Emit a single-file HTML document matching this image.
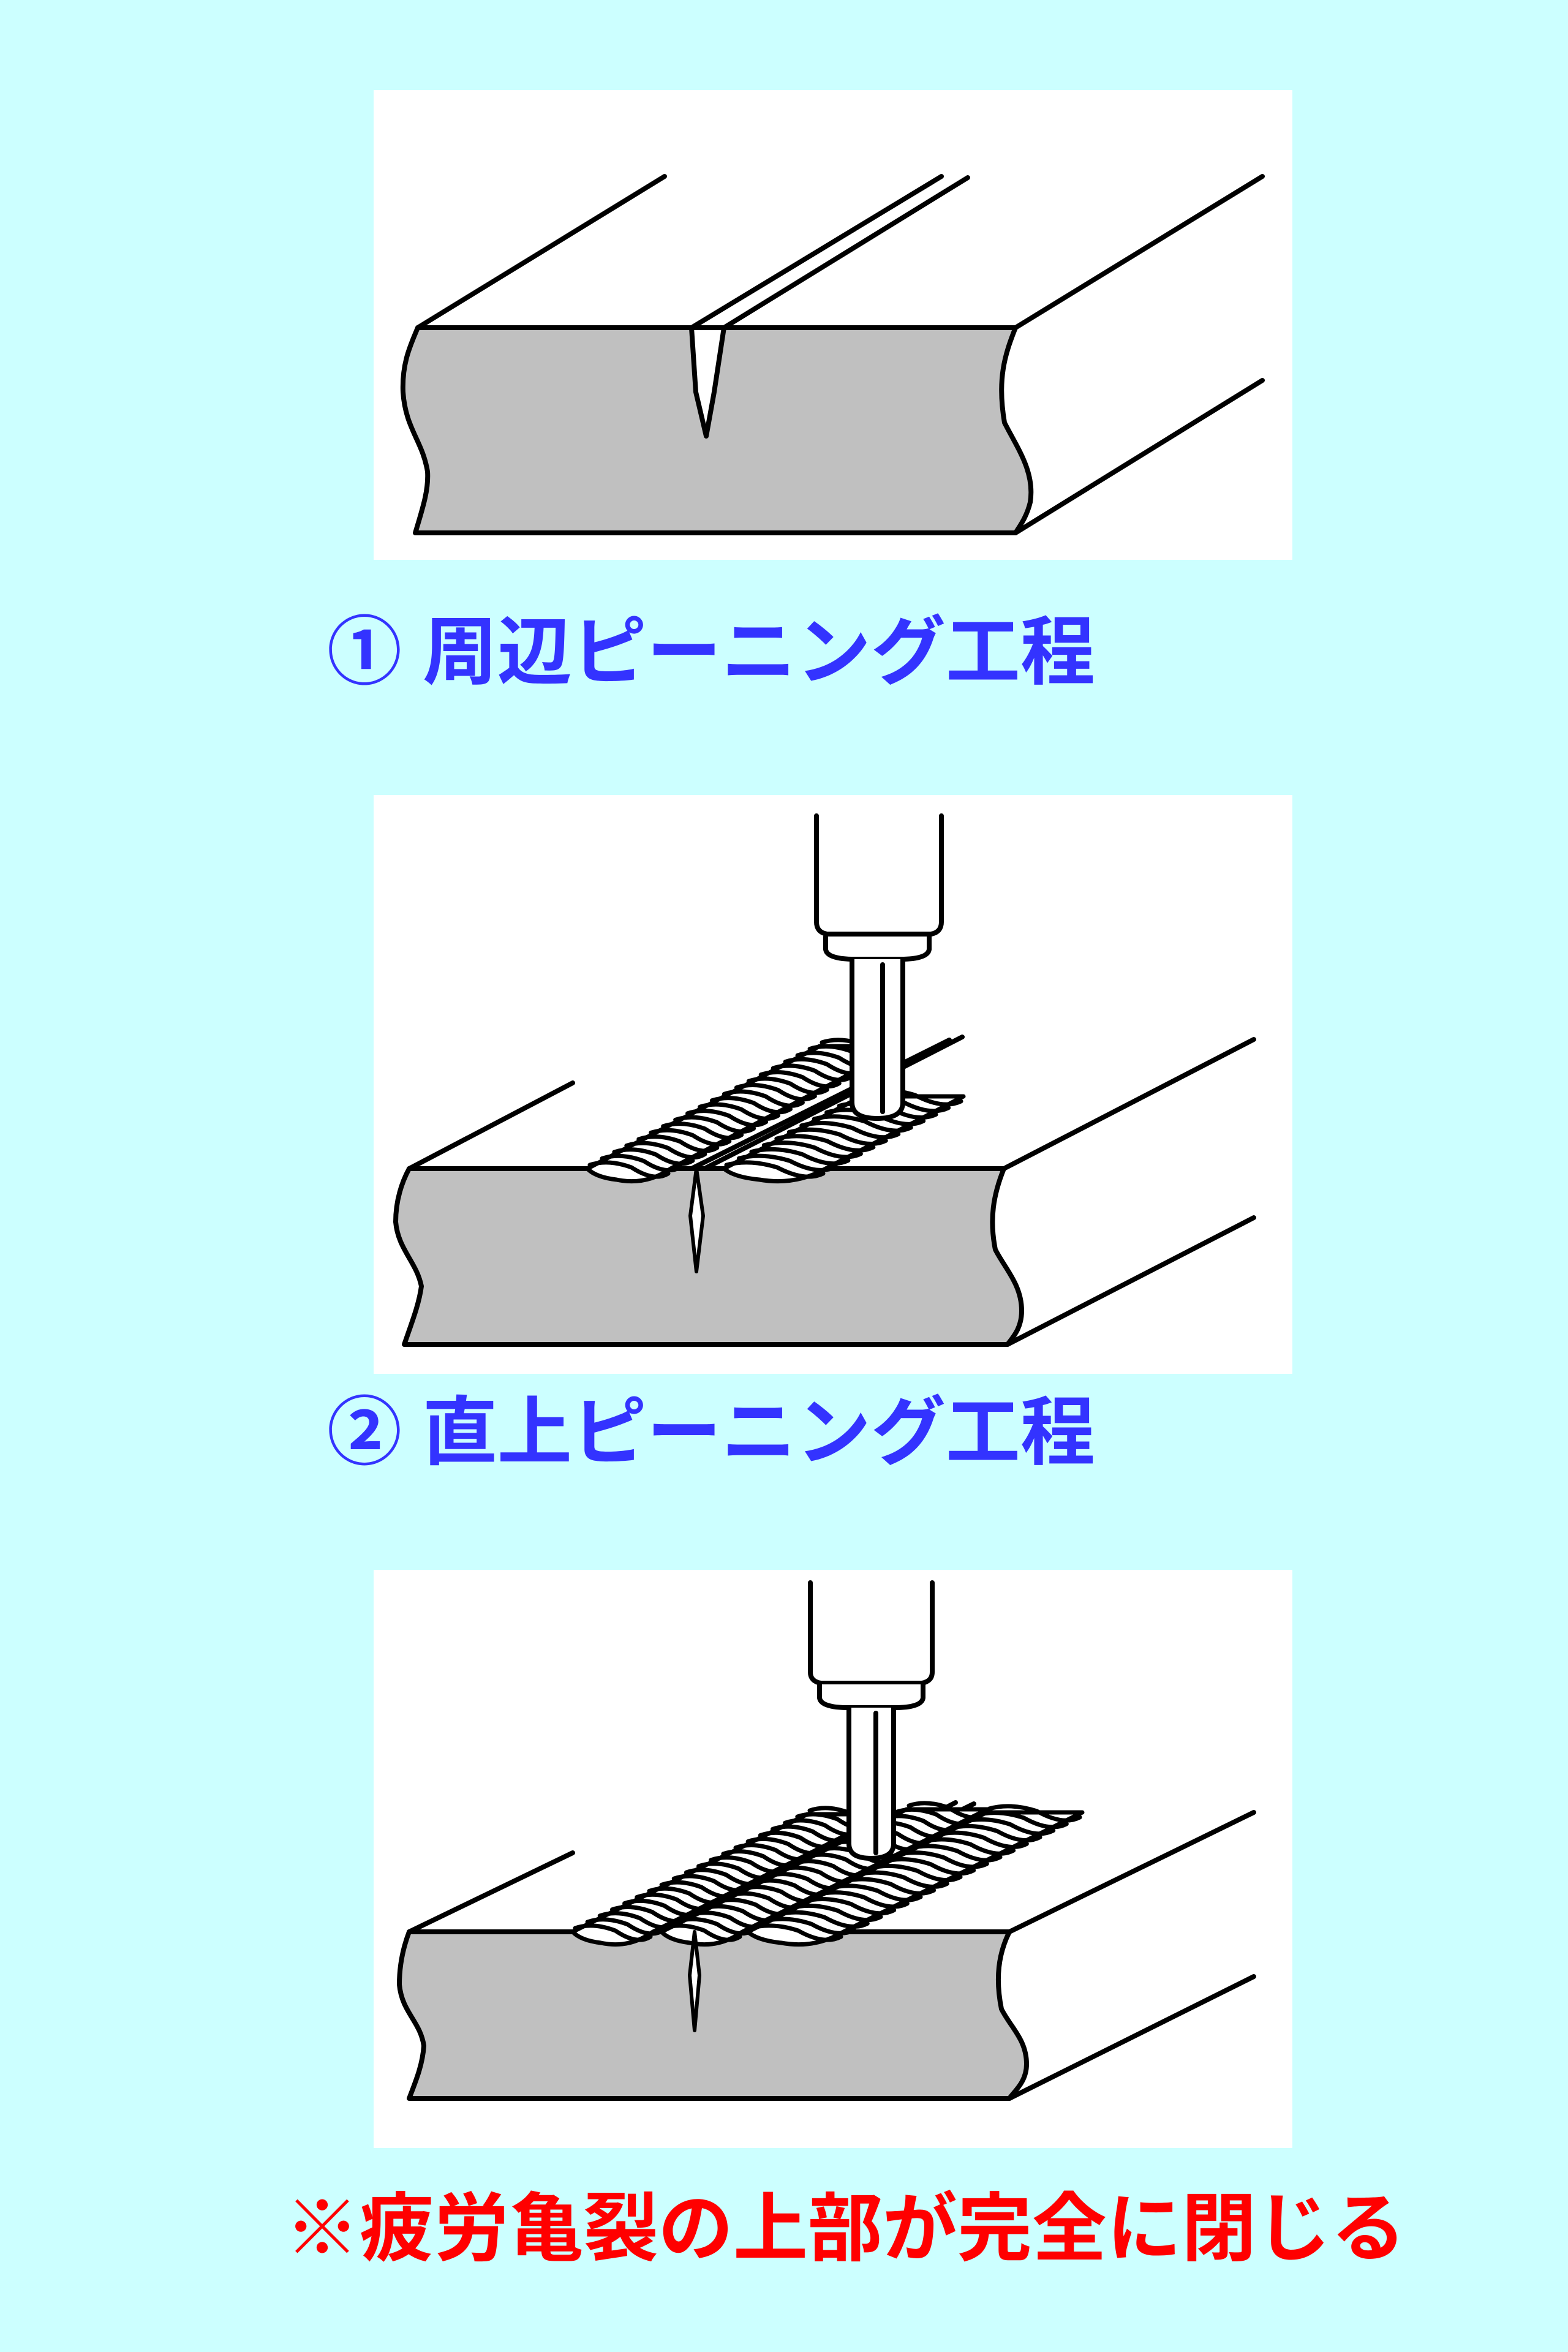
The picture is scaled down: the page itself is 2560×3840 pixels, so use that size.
<!DOCTYPE html>
<html><head><meta charset="utf-8">
<style>
html,body{margin:0;padding:0;}
body{width:2560px;height:3840px;background:#ccffff;position:relative;overflow:hidden;}
.lbl{position:absolute;font-family:"Liberation Sans","Noto Sans CJK JP",sans-serif;font-weight:bold;white-space:nowrap;line-height:1;}
svg{position:absolute;left:0;top:0;}
</style></head><body>
<svg id="s" width="2560" height="3840" viewBox="0 0 2560 3840" xmlns="http://www.w3.org/2000/svg">
<g stroke="#000" stroke-width="8" stroke-linejoin="round" stroke-linecap="round">
<!-- Panel 1 -->
<rect x="610" y="147" width="1500" height="767" fill="#fff" stroke="none"/>
<line x1="682" y1="535" x2="1085" y2="288"/>
<line x1="1658" y1="535" x2="2061" y2="288"/>
<line x1="1658" y1="870" x2="2061" y2="621"/>
<line x1="1129" y1="535" x2="1537" y2="288"/>
<line x1="1182" y1="535" x2="1580" y2="290"/>
<path d="M682 535 L1658 535 C1640 580 1628 620 1640 690 C1660 730 1690 770 1682 820 C1676 845 1664 860 1658 870 L678 870 C690 830 700 800 698 770 C690 720 662 700 658 640 C656 590 672 560 682 535 Z" fill="#c0c0c0"/>
<path d="M1129 535 L1136 640 L1153 712 L1166 640 L1182 535 Z" fill="#fff"/>
<!-- Panel 2 -->
<rect x="610" y="1298" width="1500" height="945" fill="#fff" stroke="none"/>
<line x1="668" y1="1908" x2="935" y2="1768"/>
<line x1="1639" y1="1908" x2="2047" y2="1697"/>
<line x1="1645" y1="2195" x2="2047" y2="1988"/>
<line x1="1129" y1="1908" x2="1550" y2="1698"/>
<line x1="1150" y1="1908" x2="1571" y2="1693"/>
<path d="M668 1908 L1639 1908 C1622 1950 1615 1990 1625 2040 C1640 2070 1668 2097 1668 2140 C1668 2170 1652 2185 1645 2195 L660 2195 C672 2160 684 2130 688 2100 C680 2060 650 2040 646 1995 C646 1960 656 1930 668 1908 Z" fill="#c0c0c0"/>
<g id="b2"></g>
<path d="M1137 1908 L1127 1985 L1137 2076 L1148 1985 Z" fill="#fff" stroke-width="6"/>
<path d="M1333 1332 L1333 1505 Q1333 1522 1350 1525 L1520 1525 Q1537 1522 1537 1505 L1537 1332" fill="#fff"/>
<path d="M1348 1529 L1348 1550 Q1350 1565 1390 1566 L1476 1566 Q1515 1565 1517 1550 L1517 1529" fill="#fff"/>
<path d="M1391 1566 L1391 1800 Q1391 1826 1432 1826 Q1474 1826 1474 1800 L1474 1566" fill="#fff"/>
<line x1="1441" y1="1575" x2="1441" y2="1815"/>
<!-- Panel 3 -->
<rect x="610" y="2563" width="1500" height="944" fill="#fff" stroke="none"/>
<line x1="668" y1="3154" x2="935" y2="3025"/>
<line x1="1648" y1="3154" x2="2047" y2="2959"/>
<line x1="1648" y1="3426" x2="2047" y2="3227"/>
<line x1="1470" y1="2990" x2="1560" y2="2943"/>
<line x1="1478" y1="3000" x2="1590" y2="2945"/>
<path d="M668 3154 L1648 3154 C1630 3190 1625 3230 1635 3280 C1650 3310 1676 3330 1676 3370 C1676 3400 1655 3415 1648 3426 L668 3426 C680 3395 690 3370 692 3340 C686 3300 656 3285 652 3240 C652 3205 660 3175 668 3154 Z" fill="#c0c0c0"/>
<g id="b3"></g>
<path d="M1134 3154 L1126 3225 L1134 3315 L1142 3225 Z" fill="#fff" stroke-width="6"/>
<path d="M1323 2584 L1323 2730 Q1323 2745 1340 2748 L1505 2748 Q1522 2745 1522 2730 L1522 2584" fill="#fff"/>
<path d="M1338 2750 L1338 2772 Q1340 2787 1380 2788 L1466 2788 Q1505 2787 1507 2772 L1507 2750" fill="#fff"/>
<path d="M1386 2788 L1386 3010 Q1386 3034 1422 3034 Q1459 3034 1459 3010 L1459 2788" fill="#fff"/>
<line x1="1430" y1="2797" x2="1430" y2="3025"/>
</g>
</svg>
<div class="lbl" style="left:534px;top:1004px;font-size:122px;color:#3333ff;">① 周辺ピーニング工程</div>
<div class="lbl" style="left:534px;top:2278px;font-size:122px;color:#3333ff;">② 直上ピーニング工程</div>
<div class="lbl" style="left:465px;top:3578px;font-size:122px;color:#ff0000;">※疲労亀裂の上部が完全に閉じる</div>
<script>
var NS="http://www.w3.org/2000/svg";
function band(gid,fx1,fx2,fy,dx,dy,n){
  var g=document.getElementById(gid);
  function mk(tag,attrs){var e=document.createElementNS(NS,tag);for(var k in attrs)e.setAttribute(k,attrs[k]);g.appendChild(e);return e;}
  var w=fx2-fx1;
  mk("path",{d:"M"+fx1+" "+fy+" L"+(fx1+dx)+" "+(fy+dy)+" L"+(fx2+dx)+" "+(fy+dy)+" L"+fx2+" "+fy+" Q"+(fx1+w*0.7)+" "+(fy+28)+" "+(fx1+w*0.35)+" "+(fy+18)+" Q"+(fx1+w*0.1)+" "+(fy+14)+" "+fx1+" "+fy+" Z",fill:"#fff","stroke-width":"7"});
  for(var i=0;i<=n;i++){
    var t=i/n,x1=fx1+dx*t,y1=fy+dy*t,x2=fx2+dx*t,y2=fy+dy*t;
    var cx=(x1+x2)/2+4,cy=y1-10;
    mk("path",{d:"M"+(x1+4)+" "+(y1-6)+" Q"+(x1+w*0.25)+" "+(y1-16)+" "+cx+" "+(cy+8)+" Q"+(x1+w*0.8)+" "+(y1+22)+" "+(x2-4)+" "+(y2+8),fill:"none","stroke-width":"7"});
  }
}
band("b2",959,1095,1908,379,-200,19);
band("b2",1182,1348,1908,225,-118,11);
band("b3",935,1066,3154,383,-192,19);
band("b3",1080,1212,3154,400,-200,19);
band("b3",1221,1377,3154,390,-195,18);
</script>
</body></html>
